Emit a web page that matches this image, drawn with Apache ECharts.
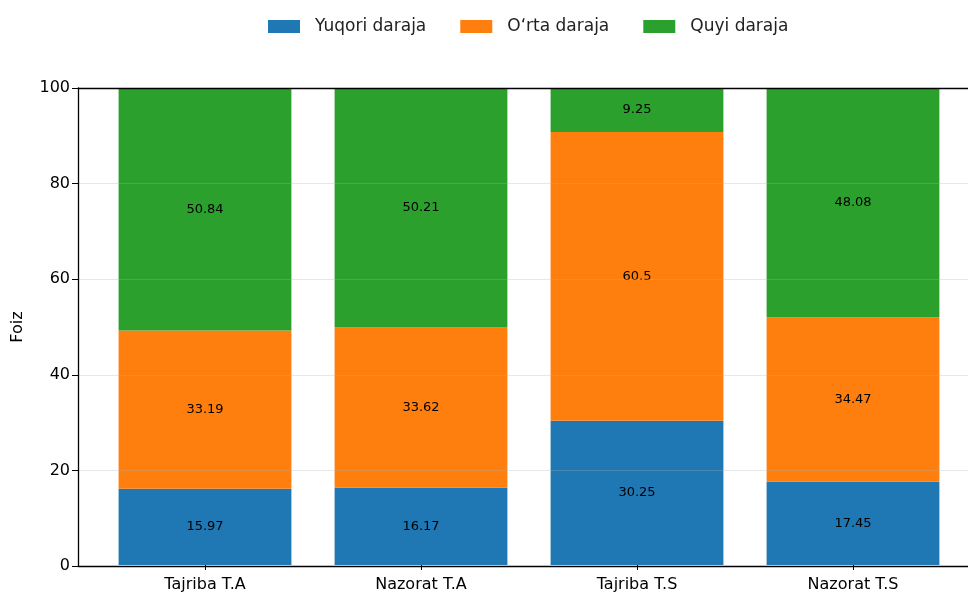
<!DOCTYPE html>
<html><head><meta charset="utf-8">
<script src="https://cdn.jsdelivr.net/npm/echarts@6/dist/echarts.min.js"></script>
<style>html,body{margin:0;padding:0;background:#fff}#c{width:968px;height:593px}</style>
</head><body><div id="c"></div>
<script>
const categories = ['Tajriba T.A', 'Nazorat T.A', 'Tajriba T.S', 'Nazorat T.S'];
const seriesNames = ['Yuqori daraja', 'O‘rta daraja', 'Quyi daraja'];
const yuqori = [15.97, 16.17, 30.25, 17.45];
const orta = [33.19, 33.62, 60.5, 34.47];
const quyi = [50.84, 50.21, 9.25, 48.08];
const yTicks = [0, 20, 40, 60, 80, 100];
const colors = ['#1f77b4', '#ff7f0e', '#2ca02c'];

const font = 'DejaVu Sans';
const chart = echarts.init(document.getElementById('c'), null, {renderer: 'canvas'});
const values = [yuqori, orta, quyi];
chart.setOption({
  animation: false,
  textStyle: {fontFamily: font},
  legend: {
    top: 13, left: 263,
    itemWidth: 32, itemHeight: 13, itemGap: 34,
    icon: 'rect',
    textStyle: {fontFamily: font, fontSize: 17, color: '#222', padding: [0, 0, 0, 10]},
    data: seriesNames
  },
  grid: [
    {left: 97, right: 7, top: 88, bottom: 27},
    {left: 78, width: 903, top: 88, bottom: 27}
  ],
  xAxis: [
    {type: 'category', gridIndex: 0, data: categories,
     axisLine: {show: false},
     axisTick: {show: true, alignWithLabel: true, length: 5, lineStyle: {color: '#000'}},
     axisLabel: {fontFamily: font, fontSize: 16, color: '#000', margin: 12}},
    {type: 'value', gridIndex: 1, min: 0, max: 1, position: 'bottom', z: 10,
     axisLine: {show: true, lineStyle: {color: '#000', width: 1.3}},
     axisTick: {show: false}, axisLabel: {show: false}, splitLine: {show: false}},
    {type: 'value', gridIndex: 1, min: 0, max: 1, position: 'top', z: 10,
     axisLine: {show: true, onZero: false, lineStyle: {color: '#000', width: 1.3}},
     axisTick: {show: false}, axisLabel: {show: false}, splitLine: {show: false}}
  ],
  yAxis: [
    {type: 'value', gridIndex: 0, min: 0, max: 100, interval: 20, show: false, splitLine: {show: false}},
    {type: 'value', gridIndex: 1, min: yTicks[0], max: yTicks[yTicks.length - 1], interval: 20, z: 10,
     name: 'Foiz', nameLocation: 'middle', nameGap: 52, nameRotate: 90,
     nameTextStyle: {fontFamily: font, fontSize: 16, color: '#000'},
     axisLine: {show: true, lineStyle: {color: '#000', width: 1.3}},
     axisTick: {show: true, length: 6, lineStyle: {color: '#000'}},
     axisLabel: {fontFamily: font, fontSize: 16, color: '#000', margin: 8},
     splitLine: {show: true, lineStyle: {color: 'rgba(176,176,176,0.3)', width: 1}}}
  ],
  series: seriesNames.map((n, i) => ({
    name: n, type: 'bar', stack: 'total', xAxisIndex: 0, yAxisIndex: 0,
    barWidth: '80%',
    itemStyle: {color: colors[i]},
    label: {show: true, position: 'inside', color: '#000', fontFamily: font, fontSize: 13,
            formatter: p => String(p.value)},
    data: values[i]
  }))
});
</script></body></html>
